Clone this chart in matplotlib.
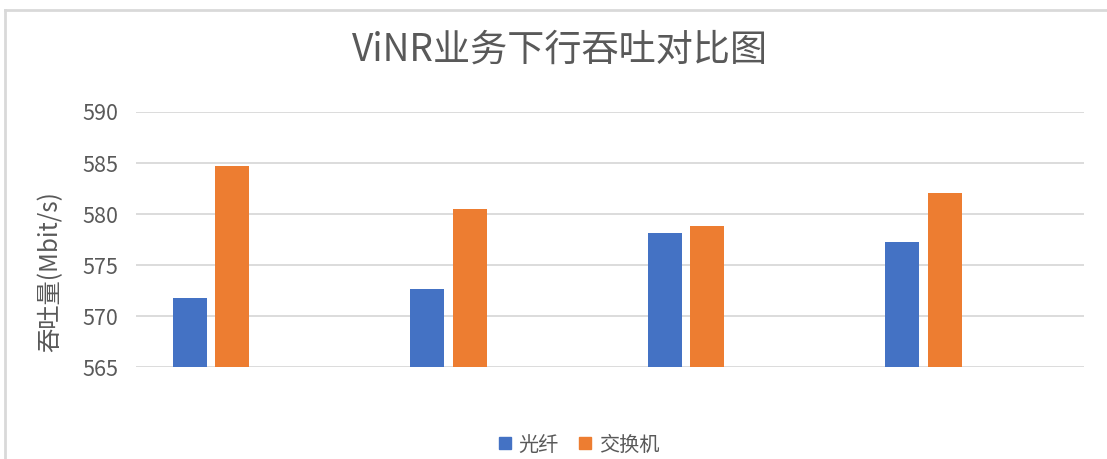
import matplotlib
matplotlib.use('Agg')
import matplotlib.pyplot as plt
from matplotlib.lines import Line2D
import numpy as np

plt.rcParams['font.family'] = ['Noto Sans CJK SC', 'DejaVu Sans']

# 数据
groups = ['1', '2', '3', '4']
fiber = [571.8, 572.6, 578.1, 577.3]      # 光纤
switch = [584.7, 580.5, 578.8, 582.1]     # 交换机
series_names = ['光纤', '交换机']
y_ticks = [565, 570, 575, 580, 585, 590]

BLUE = '#4472C4'
ORANGE = '#ED7D31'
GRID = '#D9D9D9'
TEXT = '#595959'

fig = plt.figure(figsize=(11.07, 4.59), dpi=100)
ax = fig.add_axes([0.1229, 0.2004, 0.8563, 0.5556])

x = np.arange(len(groups))
w = 0.143
ax.bar(x - 0.089, np.array(fiber) - 565, w, bottom=565, color=BLUE, label=series_names[0], zorder=3)
ax.bar(x + 0.089, np.array(switch) - 565, w, bottom=565, color=ORANGE, label=series_names[1], zorder=3)

ax.set_ylim(565, 590)
ax.set_xlim(-0.316, 3.676)
ax.set_yticks(y_ticks)
ax.set_yticklabels([str(t) for t in y_ticks], fontsize=15.5, color=TEXT)
ax.set_xticks([])
ax.tick_params(axis='y', length=0, pad=13)
ax.grid(axis='y', color=GRID, linewidth=1.3, zorder=0)
for s in ax.spines.values():
    s.set_visible(False)

# 标题、坐标轴标题
fig.text(560 / 1107, 1 - 50 / 459, 'ViNR业务下行吞吐对比图', ha='center', va='center',
         fontsize=26.7, color=TEXT)
fig.text(50 / 1107, 1 - 272 / 459, '吞吐量(Mbit/s)', ha='center', va='center',
         rotation=90, fontsize=17.5, color=TEXT)

# 图例
handles = [Line2D([], [], marker='s', linestyle='none', markersize=9, color=BLUE),
           Line2D([], [], marker='s', linestyle='none', markersize=9, color=ORANGE)]
fig.legend(handles, series_names, loc='center', bbox_to_anchor=(577 / 1107, 1 - 445 / 459),
           ncol=2, frameon=False, fontsize=14.5, labelcolor=TEXT, handletextpad=0.2,
           columnspacing=0.8, handlelength=1.0)

# 外框
fig.add_artist(Line2D([5 / 1107, 5 / 1107], [0, 1 - 10 / 459], transform=fig.transFigure,
                      color=GRID, linewidth=2))
fig.add_artist(Line2D([5 / 1107, 1], [1 - 10 / 459, 1 - 10 / 459], transform=fig.transFigure,
                      color=GRID, linewidth=2))

fig.savefig('out.png', dpi=100)
